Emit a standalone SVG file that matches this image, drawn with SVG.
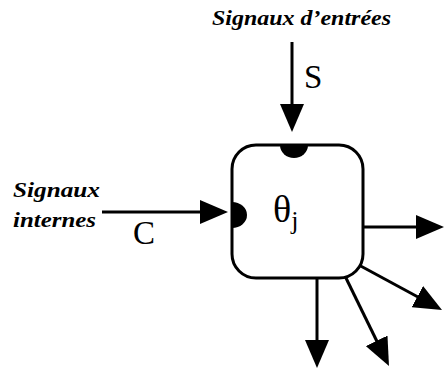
<svg xmlns="http://www.w3.org/2000/svg" width="444" height="372" viewBox="0 0 444 372">
<style>
.lbl{font-family:"Liberation Serif","Times New Roman",serif;font-style:italic;font-weight:bold;font-size:21px;fill:#000}
.sym{font-family:"Liberation Serif","Times New Roman",serif;font-size:33px;fill:#000}
.theta{font-family:"Liberation Serif","Times New Roman",serif;font-size:38px;fill:#000}
.edge{stroke:#000;stroke-width:3;fill:none}
.box{stroke:#000;stroke-width:3;fill:#fff}
</style>
<defs>
<marker id="ah" markerUnits="userSpaceOnUse" viewBox="0 0 28 24" refX="18" refY="12" markerWidth="28" markerHeight="24" orient="auto">
<path d="M0,0 L28,12 L0,24 Z" fill="#000"/>
</marker>
</defs>
<rect width="444" height="372" fill="#fff"/>
<g id="connectors">
<line class="edge" x1="292" y1="42" x2="292" y2="122" marker-end="url(#ah)"/>
<line class="edge" x1="102" y1="212" x2="218" y2="212" marker-end="url(#ah)"/>
<line class="edge" x1="363" y1="227" x2="434" y2="227" marker-end="url(#ah)"/>
<line class="edge" x1="357" y1="264" x2="433.2" y2="305.2" marker-end="url(#ah)"/>
<line class="edge" x1="317" y1="278" x2="317" y2="358" marker-end="url(#ah)"/>
<line class="edge" x1="345" y1="276" x2="384.6" y2="357" marker-end="url(#ah)"/>
</g>
<g id="neuron">
<rect class="box" x="232" y="145" width="131" height="133" rx="24" ry="24"/>
<path d="M280,145 A14,13 0 0 0 308,145 Z" fill="#000"/>
<path d="M232,202 A15,13 0 0 1 232,228 Z" fill="#000"/>
<text class="theta" x="273" y="222">θ<tspan style="font-size:26px" dy="7">j</tspan></text>
</g>
<g id="input-s">
<text class="lbl" x="212" y="25" textLength="179" lengthAdjust="spacingAndGlyphs">Signaux d’entrées</text>
<text class="sym" x="304" y="88">S</text>
</g>
<g id="input-c">
<text class="lbl" x="13" y="197" textLength="87" lengthAdjust="spacingAndGlyphs">Signaux</text>
<text class="lbl" x="13" y="227" textLength="83" lengthAdjust="spacingAndGlyphs">internes</text>
<text class="sym" x="133" y="244">C</text>
</g>
</svg>
